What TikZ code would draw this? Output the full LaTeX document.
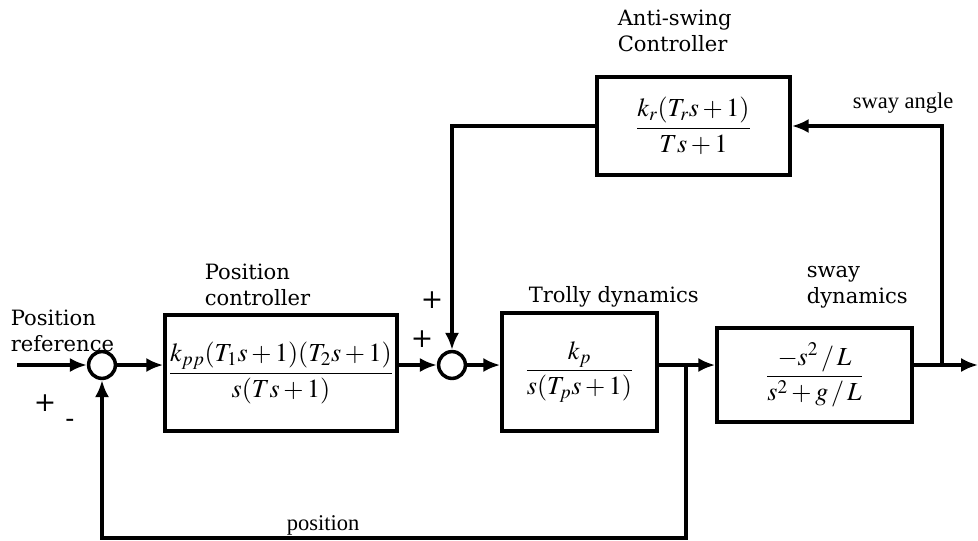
\documentclass[tikz,border=0pt]{standalone}
\usepackage{mathptmx}
\usepackage{amsmath}
\usepackage[no-math]{fontspec}
\setmainfont{Liberation Serif}
\newfontfamily\labelfont{DejaVu Serif}
\usetikzlibrary{arrows.meta}

\begin{document}
\begin{tikzpicture}[x=0.025cm, y=-0.025cm, line width=2.5pt, >={Latex[length=12pt,width=10pt]},
    block/.style = {draw, rectangle, inner sep=0pt, font=\fontsize{18.5}{22}\selectfont},
    sum/.style = {draw, circle, inner sep=0pt, minimum size=0.67cm},
    lbl/.style = {font=\labelfont\fontsize{15}{18.5}\selectfont, align=left, inner sep=0pt},
    sgn/.style = {font=\labelfont\fontsize{19}{20}\selectfont, inner sep=0pt},
    txt/.style = {font=\fontsize{16}{19}\selectfont, inner sep=0pt}]
    \useasboundingbox (0,0) rectangle (978,540);

    \node[sum] (S1) at (102,365) {};
    \node[block, minimum width=5.8cm, minimum height=2.9cm] (PC) at (281,373)
        {$\dfrac{k_{pp}(T_1s+1)(T_2s+1)}{s(Ts+1)}$};
    \node[sum] (S2) at (452,365) {};
    \node[block, minimum width=3.875cm, minimum height=2.95cm] (TD) at (579.5,372)
        {$\dfrac{k_p}{s(T_ps+1)}$};
    \node[block, minimum width=4.875cm, minimum height=2.35cm] (SD) at (814.5,375)
        {$\dfrac{-s^2\,/\,L}{s^2+g\,/\,L}$};
    \node[block, minimum width=4.825cm, minimum height=2.45cm] (AS) at (693.5,126)
        {$\dfrac{k_r(T_rs+1)}{Ts+1}$};

    \coordinate (IN) at (17,365);
    \coordinate (OUT) at (978,365);
    \coordinate (TJ) at (686,365);
    \coordinate (SJ) at (942,365);
    \coordinate (FB) at (686,538);

    \node[lbl, anchor=west] (RefLbl) at (9,331) {Position\\reference};
    \node[lbl, anchor=west] (PCLbl) at (203,285) {Position\\controller};
    \node[lbl, anchor=base west] (TDLbl) at (527,302) {Trolly dynamics};
    \node[lbl, anchor=west] (SDLbl) at (805,287) {sway\\dynamics};
    \node[lbl, anchor=west] (ASLbl) at (616,31) {Anti-swing\\Controller};
    \node[txt, anchor=base west] (AngLbl) at (851,108) {sway angle};
    \node[txt, anchor=base west] (PosLbl) at (285,530) {position};

    \node[sgn] (P1) at (45,403) {+};
    \node[sgn] (M1) at (70,423) {-};
    \node[sgn] (P2) at (432,300) {+};
    \node[sgn] (P3) at (422,339) {+};

    \path[->] (IN) edge (S1)
        (S1) edge (PC.west |- S1)
        (PC.east |- S2) edge (S2)
        (S2) edge (TD.west |- S2)
        (TJ) edge (SD.west |- TJ)
        (SJ) edge (OUT);
    \draw (TD.east |- S2) -- (TJ);
    \draw (SD.east |- TJ) -- (SJ);
    \draw[->] (SJ) |- (AS.east);
    \draw[->] (AS.west) -| (S2.north);
    \draw[->] (TJ) -- (FB) -| (S1.south);
\end{tikzpicture}
\end{document}
